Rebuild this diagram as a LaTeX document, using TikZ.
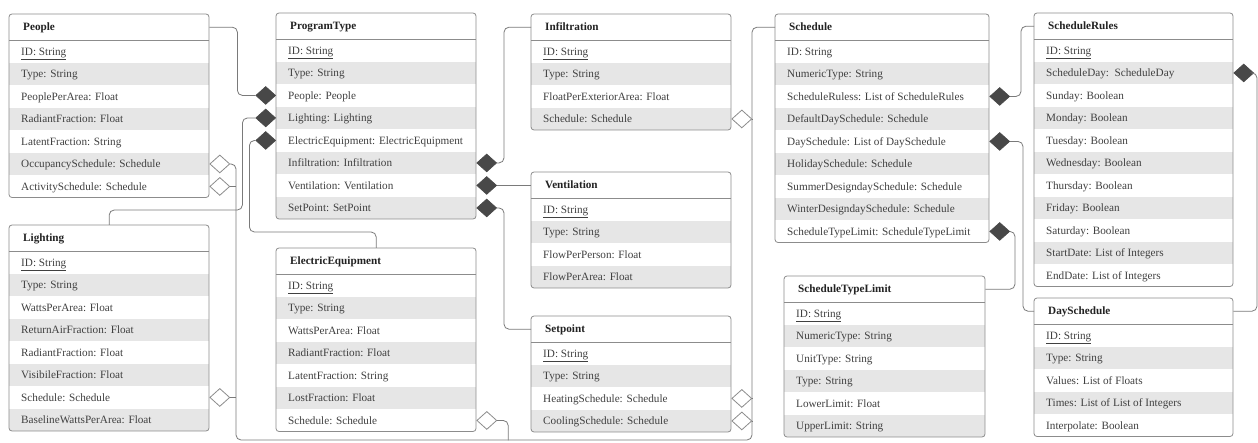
\documentclass[tikz,border=0pt]{standalone}
\usepackage{fontspec}
\setmainfont{Liberation Serif}
\usetikzlibrary{shapes.geometric,calc}
\definecolor{rowgray}{HTML}{E6E6E6}
\definecolor{boxline}{HTML}{8C8C8C}
\definecolor{conncol}{HTML}{7A7A7A}
\definecolor{txt}{HTML}{404040}
\definecolor{hdrtxt}{HTML}{222222}
\definecolor{dia}{HTML}{484848}
\tikzset{
  hdr/.style={anchor=north west, inner xsep=14pt, inner ysep=0pt, minimum height=26pt,
    text height=9.4pt, text depth=2pt, font=\fontsize{11.2}{13}\selectfont\bfseries, text=hdrtxt, fill=white},
  rowcell/.style={anchor=north west, inner xsep=12pt, inner ysep=0pt, minimum height=22.5pt,
    text height=9.4pt, text depth=2pt, font=\fontsize{11.2}{13}\selectfont, text=txt},
  fdia/.style={diamond, fill=dia, draw=dia, line width=0.6pt, inner sep=0pt, minimum width=20pt, minimum height=18pt},
  odia/.style={diamond, fill=white, draw=boxline, line width=0.8pt, inner sep=0pt, minimum width=20pt, minimum height=18pt},
  conn/.style={draw=conncol, line width=0.8pt, rounded corners=5pt},
  boxedge/.style={draw=boxline, line width=0.8pt},
}
\newcommand{\umlclass}[7]{%
  \pgfmathsetmacro\hw{#4-28}%
  \pgfmathsetmacro\tw{#4-24}%
  \pgfmathsetmacro\bh{26+#5*22.5}%
  \begin{scope}
    \clip[rounded corners=3pt] (#2,#3) rectangle ++(#4,\bh);
    \node[hdr] (#1) at (#2,#3) {\makebox[\hw pt][l]{#6}};
    \foreach \r [count=\i] in {#7} {
      \pgfmathsetmacro\yy{#3+26+(\i-1)*22.5}
      \ifodd\i \def\rf{white}\else\def\rf{rowgray}\fi
      \node[rowcell, fill=\rf] (#1-\i) at (#2,\yy) {\makebox[\tw pt][l]{\r}};
    }
  \end{scope}
  \draw[boxedge] (#1.south west) -- (#1.south east);
  \draw[boxedge, rounded corners=3pt] (#2,#3) rectangle ++(#4,\bh);
}
\begin{document}
\begin{tikzpicture}[x=1pt,y=-1pt]
\useasboundingbox[fill=white] (0,0) rectangle (1258,443);

\umlclass{pe}{9}{14}{200}{7}{People}{\underline{ID: String}, Type: String, PeoplePerArea: Float, RadiantFraction: Float, LatentFraction: String, OccupancySchedule: Schedule, ActivitySchedule: Schedule}
\umlclass{li}{9}{225}{200}{8}{Lighting}{\underline{ID: String}, Type: String, WattsPerArea: Float, ReturnAirFraction: Float, RadiantFraction: Float, VisibileFraction: Float, Schedule: Schedule, BaselineWattsPerArea: Float}
\umlclass{pt}{276}{13}{200}{8}{ProgramType}{\underline{ID: String}, Type: String, People: People, Lighting: Lighting, ElectricEquipment: ElectricEquipment, Infiltration: Infiltration, Ventilation: Ventilation, SetPoint: SetPoint}
\umlclass{ee}{276}{248}{200}{7}{ElectricEquipment}{\underline{ID: String}, Type: String, WattsPerArea: Float, RadiantFraction: Float, LatentFraction: String, LostFraction: Float, Schedule: Schedule}
\umlclass{inf}{531}{14}{200}{4}{Infiltration}{\underline{ID: String}, Type: String, FloatPerExteriorArea: Float, Schedule: Schedule}
\umlclass{ven}{531}{172}{200}{4}{Ventilation}{\underline{ID: String}, Type: String, FlowPerPerson: Float, FlowPerArea: Float}
\umlclass{sp}{531}{316}{200}{4}{Setpoint}{\underline{ID: String}, Type: String, HeatingSchedule: Schedule, CoolingSchedule: Schedule}
\umlclass{sch}{775}{14}{214}{9}{Schedule}{ID: String, NumericType: String, ScheduleRuless: List of ScheduleRules, DefaultDaySchedule: Schedule, DaySchedule: List of DaySchedule, HolidaySchedule: Schedule, SummerDesigndaySchedule: Schedule, WinterDesigndaySchedule: Schedule, ScheduleTypeLimit: ScheduleTypeLimit}
\umlclass{stl}{784}{276}{201}{6}{ScheduleTypeLimit}{\underline{ID: String}, NumericType: String, UnitType: String, Type: String, LowerLimit: Float, UpperLimit: String}
\umlclass{sr}{1034}{13}{199}{11}{ScheduleRules}{\underline{ID: String}, ScheduleDay:\ \ ScheduleDay, Sunday: Boolean, Monday: Boolean, Tuesday: Boolean, Wednesday: Boolean, Thursday: Boolean, Friday: Boolean, Saturday: Boolean, StartDate: List of Integers, EndDate: List of Integers}
\umlclass{ds}{1034}{298}{199}{5}{DaySchedule}{\underline{ID: String}, Type: String, Values: List of Floats, Times: List of List of Integers, Interpolate: Boolean}

% composition diamonds
\node[fdia, anchor=east] (dPeo) at (pt-3.west) {};
\node[fdia, anchor=east] (dLig) at (pt-4.west) {};
\node[fdia, anchor=east] (dEle) at (pt-5.west) {};
\node[fdia, anchor=west] (dInf) at (pt-6.east) {};
\node[fdia, anchor=west] (dVen) at (pt-7.east) {};
\node[fdia, anchor=west] (dSet) at (pt-8.east) {};
\node[fdia, anchor=west] (dRul) at (sch-3.east) {};
\node[fdia, anchor=west] (dDay) at (sch-5.east) {};
\node[fdia, anchor=west] (dLim) at (sch-9.east) {};
\node[fdia, anchor=west] (dSDay) at (sr-2.east) {};
% aggregation diamonds
\node[odia, anchor=west] (oOcc) at (pe-6.east) {};
\node[odia, anchor=west] (oAct) at (pe-7.east) {};
\node[odia, anchor=west] (oLig) at (li-7.east) {};
\node[odia, anchor=west] (oEle) at (ee-7.east) {};
\node[odia, anchor=west] (oInf) at (inf-4.east) {};
\node[odia, anchor=west] (oHea) at (sp-3.east) {};
\node[odia, anchor=west] (oCoo) at (sp-4.east) {};

\coordinate (busR) at (752,440);
\coordinate (busL) at (236,440);

% connectors
\draw[conn] (pe.east) -| ([xshift=-18pt]dPeo.west) -- (dPeo.west);
\draw[conn] (li.north) -- ++(0,-15) -| ([xshift=-13pt]dLig.west) -- (dLig.west);
\draw[conn] (ee.north) -- ++(0,-16) -| ([xshift=-6pt]dEle.west) -- (dEle.west);
\draw[conn] (dInf.east) -- ++(7,0) |- (inf.west);
\draw[conn] (dVen.east) -- (dVen.east -| ven.west);
\draw[conn] (dSet.east) -- ++(7,0) |- (sp.west);
\draw[conn] (sch.west) -| (busR) -- (busL) |- (oOcc.east);
\draw[conn] (oAct.east) -- (oAct.east -| busL);
\draw[conn] (oLig.east) -- (oLig.east -| busL);
\draw[conn] (oEle.east) -- ++(11,0) -- ++(0,20);
\draw[conn] (oInf.east) -- (oInf.east -| busR);
\draw[conn] (oHea.east) -- (oHea.east -| busR);
\draw[conn] (oCoo.east) -- (oCoo.east -| busR);
\draw[conn] (dRul.east) -- ++(11,0) |- (sr.west);
\draw[conn] (dDay.east) -- ++(13,0) |- (ds.west);
\draw[conn] (dLim.east) -- ++(5,0) |- (stl.east);
\draw[conn] (dSDay.east) -- ++(3,0) |- (ds.east);
\end{tikzpicture}
\end{document}
